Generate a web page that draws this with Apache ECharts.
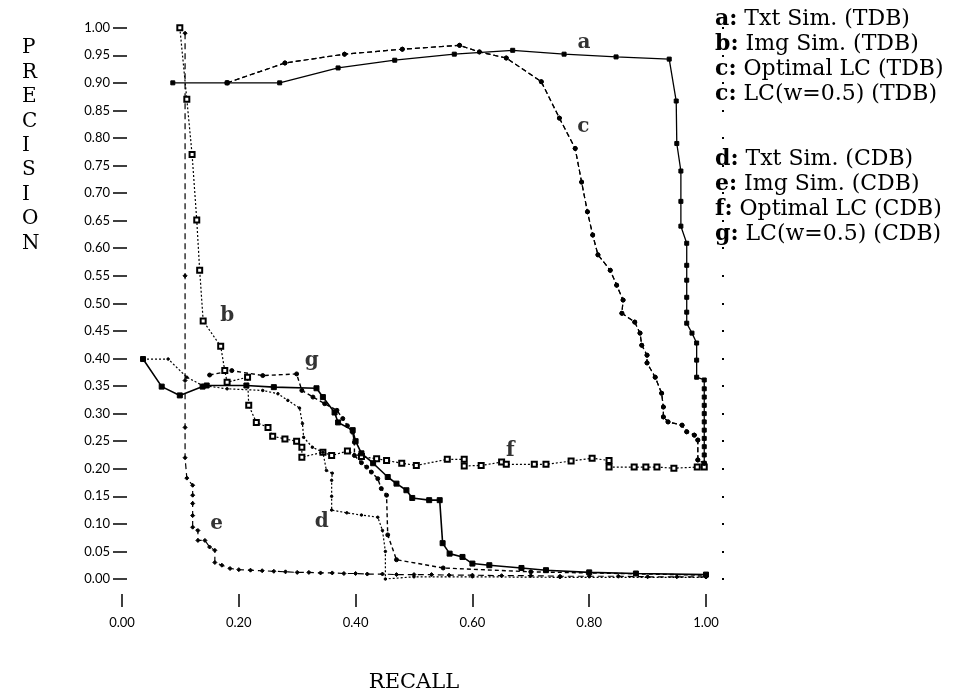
<!DOCTYPE html>
<html>
<head>
<meta charset="utf-8">
<script src="https://cdn.jsdelivr.net/npm/echarts@6/dist/echarts.min.js"></script>
<style>
  html, body { margin: 0; padding: 0; background: #fff; }
  #chart { width: 961px; height: 698px; }
</style>
</head>
<body>
<div id="chart"></div>
<script>
// [recall, precision] pairs
const curveA = [[0.087,0.90],[0.18,0.90],[0.27,0.90],[0.37,0.927],[0.467,0.941],[0.569,0.952],[0.669,0.959],[0.757,0.952],[0.846,0.947],[0.937,0.943],[0.949,0.867],[0.95,0.79],[0.957,0.74],[0.957,0.685],[0.957,0.64],[0.967,0.609],[0.967,0.569],[0.967,0.542],[0.967,0.511],[0.967,0.484],[0.967,0.464],[0.976,0.446],[0.984,0.428],[0.984,0.397],[0.984,0.366],[0.997,0.361],[0.997,0.345],[0.997,0.33],[0.997,0.315],[0.997,0.30],[0.997,0.285],[0.997,0.27],[0.997,0.255],[0.997,0.24],[0.997,0.225],[0.997,0.21]]
const curveB = [[0.099,1.0],[0.111,0.87],[0.12,0.77],[0.128,0.651],[0.133,0.56],[0.139,0.468],[0.169,0.422],[0.176,0.378],[0.18,0.357],[0.215,0.366],[0.217,0.315],[0.23,0.284],[0.25,0.275],[0.258,0.259],[0.279,0.254],[0.299,0.25],[0.308,0.239],[0.308,0.221],[0.344,0.23],[0.359,0.224],[0.386,0.232],[0.41,0.222],[0.436,0.218],[0.453,0.215],[0.479,0.21],[0.504,0.206],[0.557,0.217],[0.586,0.217],[0.586,0.205],[0.615,0.206],[0.65,0.212],[0.658,0.208],[0.706,0.208],[0.726,0.208],[0.769,0.214],[0.805,0.219],[0.834,0.215],[0.834,0.203],[0.877,0.203],[0.897,0.203],[0.916,0.203],[0.945,0.201],[0.985,0.203],[0.997,0.203]]
const curveC = [[0.18,0.90],[0.279,0.936],[0.381,0.952],[0.48,0.961],[0.578,0.968],[0.612,0.956],[0.658,0.945],[0.718,0.902],[0.749,0.836],[0.776,0.781],[0.787,0.72],[0.797,0.666],[0.806,0.624],[0.815,0.588],[0.836,0.56],[0.847,0.533],[0.858,0.506],[0.856,0.482],[0.878,0.466],[0.887,0.446],[0.89,0.424],[0.899,0.406],[0.899,0.392],[0.913,0.366],[0.924,0.337],[0.927,0.312],[0.927,0.294],[0.935,0.285],[0.959,0.279],[0.967,0.267],[0.98,0.261],[0.986,0.252],[0.986,0.216],[0.997,0.21]]
const curveD = [[0.036,0.399],[0.079,0.399],[0.111,0.366],[0.138,0.351],[0.18,0.345],[0.241,0.342],[0.267,0.336],[0.284,0.324],[0.304,0.31],[0.309,0.282],[0.311,0.257],[0.326,0.239],[0.344,0.23],[0.35,0.197],[0.36,0.192],[0.359,0.179],[0.359,0.15],[0.359,0.125],[0.385,0.12],[0.41,0.116],[0.438,0.112],[0.446,0.088],[0.451,0.05],[0.451,0.0],[0.5,0.004],[0.6,0.004],[0.75,0.003],[1.0,0.003]]
const curveE = [[0.108,0.99],[0.108,0.55],[0.108,0.36],[0.108,0.275],[0.108,0.22],[0.111,0.183],[0.121,0.17],[0.121,0.152],[0.121,0.137],[0.121,0.115],[0.121,0.094],[0.13,0.088],[0.13,0.07],[0.142,0.07],[0.15,0.058],[0.159,0.052],[0.159,0.03],[0.171,0.025],[0.185,0.019],[0.2,0.017],[0.22,0.016],[0.24,0.015],[0.26,0.014],[0.28,0.013],[0.3,0.012],[0.32,0.012],[0.34,0.011],[0.36,0.011],[0.38,0.01],[0.4,0.01],[0.42,0.009],[0.446,0.009],[0.47,0.008],[0.5,0.008],[0.53,0.008],[0.56,0.007],[0.6,0.007],[0.65,0.006],[0.7,0.006],[0.75,0.005],[0.8,0.005],[0.85,0.005],[0.9,0.004],[0.95,0.004],[1.0,0.004]]
const curveF = [[0.036,0.399],[0.068,0.349],[0.099,0.333],[0.138,0.349],[0.145,0.351],[0.213,0.351],[0.26,0.348],[0.333,0.346],[0.344,0.33],[0.364,0.302],[0.37,0.284],[0.395,0.27],[0.40,0.25],[0.41,0.228],[0.43,0.21],[0.455,0.185],[0.47,0.173],[0.487,0.161],[0.497,0.147],[0.526,0.143],[0.544,0.143],[0.549,0.065],[0.561,0.046],[0.583,0.04],[0.6,0.028],[0.629,0.025],[0.684,0.02],[0.726,0.016],[0.8,0.012],[0.88,0.01],[1.0,0.008]]
const curveG = [[0.15,0.37],[0.188,0.378],[0.241,0.369],[0.299,0.372],[0.308,0.342],[0.327,0.33],[0.347,0.318],[0.368,0.306],[0.378,0.291],[0.386,0.278],[0.395,0.266],[0.398,0.248],[0.398,0.224],[0.41,0.211],[0.419,0.203],[0.427,0.194],[0.438,0.182],[0.444,0.164],[0.453,0.152],[0.455,0.08],[0.47,0.035],[0.55,0.02],[0.7,0.013],[1.0,0.007]]

const legendTDB = ['a: Txt Sim. (TDB)', 'b: Img Sim. (TDB)', 'c: Optimal LC (TDB)', 'c: LC(w=0.5) (TDB)']
const legendCDB = ['d: Txt Sim. (CDB)', 'e: Img Sim. (CDB)', 'f: Optimal LC (CDB)', 'g: LC(w=0.5) (CDB)']

// curve letters placed on the plot
const tagText = ['a', 'b', 'c', 'd', 'e', 'f', 'g']
const tagRecall = [0.791, 0.18, 0.79, 0.342, 0.162, 0.665, 0.325]
const tagPrecision = [0.972, 0.478, 0.82, 0.103, 0.101, 0.233, 0.395]

const serif = 'DejaVu Serif'
const hidden = 'rgba(0,0,0,0)'

function curve(name, data, dash, symbol, size, width) {
  return {
    type: 'line',
    name,
    data,
    symbol,
    symbolSize: size,
    showSymbol: true,
    silent: true,
    lineStyle: { color: '#000', width, type: dash },
    itemStyle: { color: '#000', borderColor: '#000', borderWidth: 1 }
  }
}

function legendFormatter(name) {
  const i = name.indexOf(':')
  return '{k|' + name.slice(0, i + 1) + '}' + name.slice(i + 1)
}

function legendBlock(names, top) {
  return {
    data: names,
    orient: 'vertical',
    left: 705,
    top,
    icon: 'none',
    itemWidth: 0,
    itemHeight: 0,
    itemGap: 3,
    selectedMode: false,
    formatter: legendFormatter,
    textStyle: {
      fontFamily: serif, fontSize: 22, lineHeight: 22, color: '#000',
      rich: { k: { fontFamily: serif, fontSize: 22, fontWeight: 'bold', color: '#000' } }
    }
  }
}

const chart = echarts.init(document.getElementById('chart'))
chart.setOption({
  animation: false,
  backgroundColor: '#fff',
  grid: { left: 122, right: 255, top: 27.7, bottom: 119 },
  legend: [legendBlock(legendTDB, 3), legendBlock(legendCDB, 143)],
  graphic: [{
    type: 'text',
    left: 22,
    top: 36,
    style: {
      text: 'P\nR\nE\nC\nI\nS\nI\nO\nN',
      font: '20px "DejaVu Serif"',
      lineHeight: 24.4,
      align: 'center',
      fill: '#000'
    }
  }],
  xAxis: {
    type: 'value',
    min: 0,
    max: 1,
    interval: 0.2,
    offset: 15,
    name: 'RECALL',
    nameLocation: 'middle',
    nameGap: 78,
    nameTextStyle: { fontFamily: serif, fontSize: 21, color: '#000' },
    axisLine: { show: true, onZero: false, lineStyle: { color: hidden } },
    axisTick: { show: true, length: 13, lineStyle: { color: '#000', width: 1.5 } },
    axisLabel: { margin: 22, fontFamily: 'Lato', fontSize: 13, color: '#000', formatter: v => v.toFixed(2) },
    splitLine: { show: false }
  },
  yAxis: [{
    type: 'value',
    min: 0,
    max: 1,
    interval: 0.05,
    offset: -5,
    axisLine: { show: true, onZero: false, lineStyle: { color: hidden } },
    axisTick: { show: true, length: 14, lineStyle: { color: '#000', width: 1.5 } },
    axisLabel: { margin: 17, fontFamily: 'Lato', fontSize: 13, color: '#000', formatter: v => v.toFixed(2) },
    splitLine: { show: false }
  }, {
    type: 'value',
    position: 'right',
    min: 0,
    max: 1,
    interval: 0.05,
    offset: 16,
    axisLine: { show: true, onZero: false, lineStyle: { color: hidden } },
    axisTick: { show: true, length: 2, lineStyle: { color: '#000', width: 2 } },
    axisLabel: { show: false },
    splitLine: { show: false }
  }],
  series: [
    curve(legendTDB[0], curveA, 'solid', 'rect', 4, 1.3),
    curve(legendTDB[1], curveB, [2, 2], 'emptyRect', 5, 1.2),
    curve(legendTDB[2], curveC, [5, 3], 'circle', 4, 1.2),
    curve(legendTDB[3], curveC, [5, 3], 'circle', 4, 1.2),
    curve(legendCDB[0], curveD, [2, 2], 'circle', 2.5, 1.2),
    curve(legendCDB[1], curveE, [6, 4], 'diamond', 4, 1.2),
    curve(legendCDB[2], curveF, 'solid', 'rect', 5, 1.6),
    curve(legendCDB[3], curveG, [4, 3], 'circle', 4, 1.4),
    {
      type: 'scatter',
      name: 'tags',
      silent: true,
      symbolSize: 1,
      itemStyle: { color: hidden },
      z: 5,
      data: tagText.map((t, i) => ({ name: t, value: [tagRecall[i], tagPrecision[i]] })),
      label: {
        show: true,
        position: 'inside',
        formatter: p => p.name,
        fontFamily: serif,
        fontWeight: 'bold',
        fontSize: 20,
        color: '#000'
      }
    }
  ]
})
</script>
</body>
</html>
